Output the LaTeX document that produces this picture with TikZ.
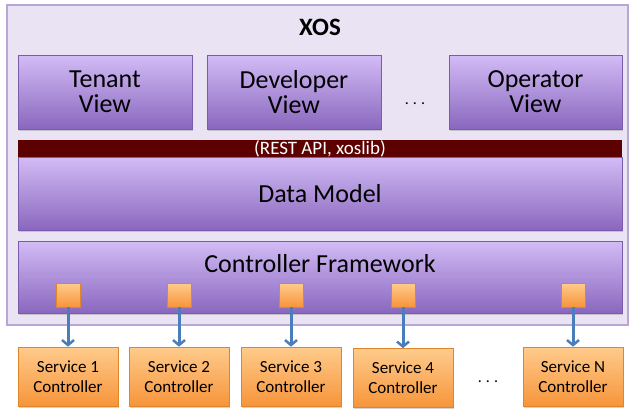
\documentclass[tikz,border=0pt]{standalone}
\usepackage{fontspec}
\setmainfont{Carlito}
\usetikzlibrary{arrows.meta,shadows}
\definecolor{outerfill}{HTML}{EAE3F4}
\definecolor{outerdraw}{HTML}{B8A6D6}
\definecolor{ptop}{HTML}{D2BCF6}
\definecolor{pbot}{HTML}{8A67BE}
\definecolor{pdraw}{HTML}{7A5CAA}
\definecolor{otop}{HTML}{FFCB8C}
\definecolor{obot}{HTML}{F6953A}
\definecolor{odraw}{HTML}{E0862A}
\definecolor{restred}{HTML}{5C0000}
\definecolor{arrblue}{HTML}{4A7EBB}
\tikzset{
  purplebox/.style={draw=pdraw, line width=0.6pt, top color=ptop, bottom color=pbot,
    drop shadow={opacity=0.35, shadow xshift=1pt, shadow yshift=-1.5pt},
    inner sep=0pt, align=center, font=\fontsize{26}{25}\selectfont},
  orangebox/.style={draw=odraw, line width=0.6pt, top color=otop, bottom color=obot,
    drop shadow={opacity=0.35, shadow xshift=1pt, shadow yshift=-1.5pt},
    minimum width=100pt, minimum height=59pt, inner sep=0pt, align=center,
    font=\fontsize{17}{20}\selectfont},
  sqbox/.style={draw=odraw, line width=0.6pt, top color=otop, bottom color=obot,
    drop shadow={opacity=0.35, shadow xshift=0.8pt, shadow yshift=-1pt},
    minimum width=24pt, minimum height=24pt, inner sep=0pt},
  arr/.style={draw=arrblue, line width=3pt, -{Straight Barb[length=5pt,width=12pt,line width=2.5pt]}},
  dots/.style={font=\fontsize{16}{16}\selectfont, inner sep=0pt},
}
\begin{document}
\begin{tikzpicture}[x=1pt,y=-1pt]
\useasboundingbox[fill=white] (0,0) rectangle (630,410);
% outer XOS box
\node[draw=outerdraw, line width=1.2pt, fill=outerfill, minimum width=621pt, minimum height=320pt, inner sep=0pt] (xos) at (317.5,165) {};
\node[font=\bfseries\fontsize{25}{25}\selectfont, inner sep=0pt] (xostitle) at (320,27) {XOS};
% views
\node[purplebox, minimum width=174pt, minimum height=74pt] (tenant) at (105,92) {Tenant\\View};
\node[purplebox, minimum width=174pt, minimum height=74pt] (developer) at (294,92) {Developer\\View};
\node[purplebox, minimum width=173pt, minimum height=74pt] (operator) at (535.5,92) {Operator\\View};
\node[dots] (vdots) at (415,104) {.\hspace{4pt}.\hspace{4pt}.};
% REST bar
\node[fill=restred, minimum width=604pt, minimum height=17pt, inner sep=0pt, text=white, font=\fontsize{19}{19}\selectfont] (rest) at (320,148.5) {(REST API, xoslib)};
% data model
\node[purplebox, minimum width=604pt, minimum height=73pt] (datamodel) at (320,193.5) {Data Model};
% controller framework
\node[purplebox, minimum width=604pt, minimum height=72pt] (cf) at (320,277) {};
\node[inner sep=0pt, font=\fontsize{26}{26}\selectfont] (cftext) at (320,264) {Controller Framework};
% squares
\node[sqbox] (q1) at (68,295) {};
\node[sqbox] (q2) at (179,295) {};
\node[sqbox] (q3) at (291,295) {};
\node[sqbox] (q4) at (403,295) {};
\node[sqbox] (qn) at (573,295) {};
% service controllers
\node[orangebox] (s1) at (68,376.5) {Service 1\\Controller};
\node[orangebox] (s2) at (179,376.5) {Service 2\\Controller};
\node[orangebox] (s3) at (291,376.5) {Service 3\\Controller};
\node[orangebox] (s4) at (403,378) {Service 4\\Controller};
\node[orangebox] (sn) at (573,376.5) {Service N\\Controller};
\node[dots] (sdots) at (488,382) {.\hspace{4pt}.\hspace{4pt}.};
% arrows
\draw[arr] (q1.south) -- (q1.south |- s1.north);
\draw[arr] (q2.south) -- (q2.south |- s2.north);
\draw[arr] (q3.south) -- (q3.south |- s3.north);
\draw[arr] (q4.south) -- (q4.south |- s4.north);
\draw[arr] (qn.south) -- (qn.south |- sn.north);
\end{tikzpicture}
\end{document}
